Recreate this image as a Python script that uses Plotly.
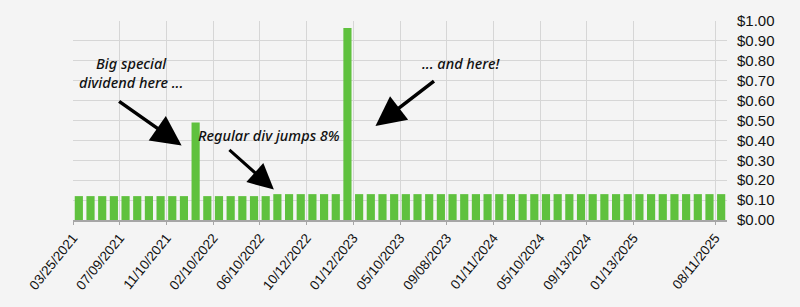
import plotly.graph_objects as go

# Monthly dividend per share (one bar per payment)
dividends = [
    0.12, 0.12, 0.12, 0.12, 0.12, 0.12, 0.12, 0.12, 0.12, 0.12,
    0.49, 0.12, 0.12, 0.12, 0.12, 0.12, 0.12, 0.13, 0.13, 0.13,
    0.13, 0.13, 0.13, 0.965, 0.13, 0.13, 0.13, 0.13, 0.13, 0.13,
    0.13, 0.13, 0.13, 0.13, 0.13, 0.13, 0.13, 0.13, 0.13, 0.13,
    0.13, 0.13, 0.13, 0.13, 0.13, 0.13, 0.13, 0.13, 0.13, 0.13,
    0.13, 0.13, 0.13, 0.13, 0.13, 0.13,
]
payment_index = list(range(len(dividends)))

tick_labels = [
    "03/25/2021", "07/09/2021", "11/10/2021", "02/10/2022", "06/10/2022",
    "10/12/2022", "01/12/2023", "05/10/2023", "09/08/2023", "01/11/2024",
    "05/10/2024", "09/13/2024", "01/13/2025", "08/11/2025",
]
tick_payment = [0, 4, 8, 12, 16, 20, 24, 28, 32, 36, 40, 44, 48, 55]

BG = "#f4f4f4"
GREEN = "#5fc13e"
GRID = "#d6d6d6"
NOTE_FONT = dict(family="Noto Sans", size=14.5, color="#111111", style="italic", weight=500)

fig = go.Figure()
fig.add_trace(go.Bar(x=payment_index, y=dividends, marker=dict(color=GREEN, line=dict(width=0)),
                     hoverinfo="skip"))

annotations = [
    dict(x=4.47, y=0.74, text="Big special<br>dividend here ...", showarrow=False, font=NOTE_FONT,
         align="center"),
    dict(x=16.3, y=0.429, text="Regular div jumps 8%", showarrow=False, font=NOTE_FONT),
    dict(x=32.7, y=0.789, text="... and here!", showarrow=False, font=NOTE_FONT),
    dict(x=8.8, y=0.375, ax=-64, ay=-45, text="", showarrow=True, arrowhead=2,
         arrowsize=1.7, arrowwidth=3.5, arrowcolor="#000000"),
    dict(x=16.7, y=0.153, ax=-46, ay=-41, text="", showarrow=True, arrowhead=2,
         arrowsize=1.7, arrowwidth=3, arrowcolor="#000000"),
    dict(x=25.4, y=0.472, ax=60, ay=-46, text="", showarrow=True, arrowhead=2,
         arrowsize=1.7, arrowwidth=3.5, arrowcolor="#000000"),
]

fig.update_layout(
    width=800, height=307,
    margin=dict(l=73, r=73, t=17, b=87),
    paper_bgcolor=BG, plot_bgcolor=BG,
    bargap=0.3, showlegend=False,
    annotations=annotations,
    xaxis=dict(
        range=[-0.5, len(dividends) - 0.5],
        tickmode="array",
        tickvals=[p - 0.5 for p in tick_payment],
        ticktext=tick_labels,
        tickangle=-51,
        tickfont=dict(family="Liberation Sans, Arial", size=13.5, color="#111111"),
        showgrid=True, gridcolor=GRID, gridwidth=1,
        showline=True, linecolor="#a6a6a6", linewidth=1.5,
        ticks="outside", ticklen=3, tickcolor="#a6a6a6",
        zeroline=False,
    ),
    yaxis=dict(
        side="right",
        range=[0, 1.0],
        dtick=0.1, tick0=0,
        tickprefix="$", tickformat=".2f",
        tickfont=dict(family="Liberation Sans, Arial", size=15, color="#111111"),
        showgrid=True, gridcolor=GRID, gridwidth=1,
        zeroline=False, showline=False,
        ticks="", ticklabelstandoff=9,
    ),
)

fig.write_html("out.html")
